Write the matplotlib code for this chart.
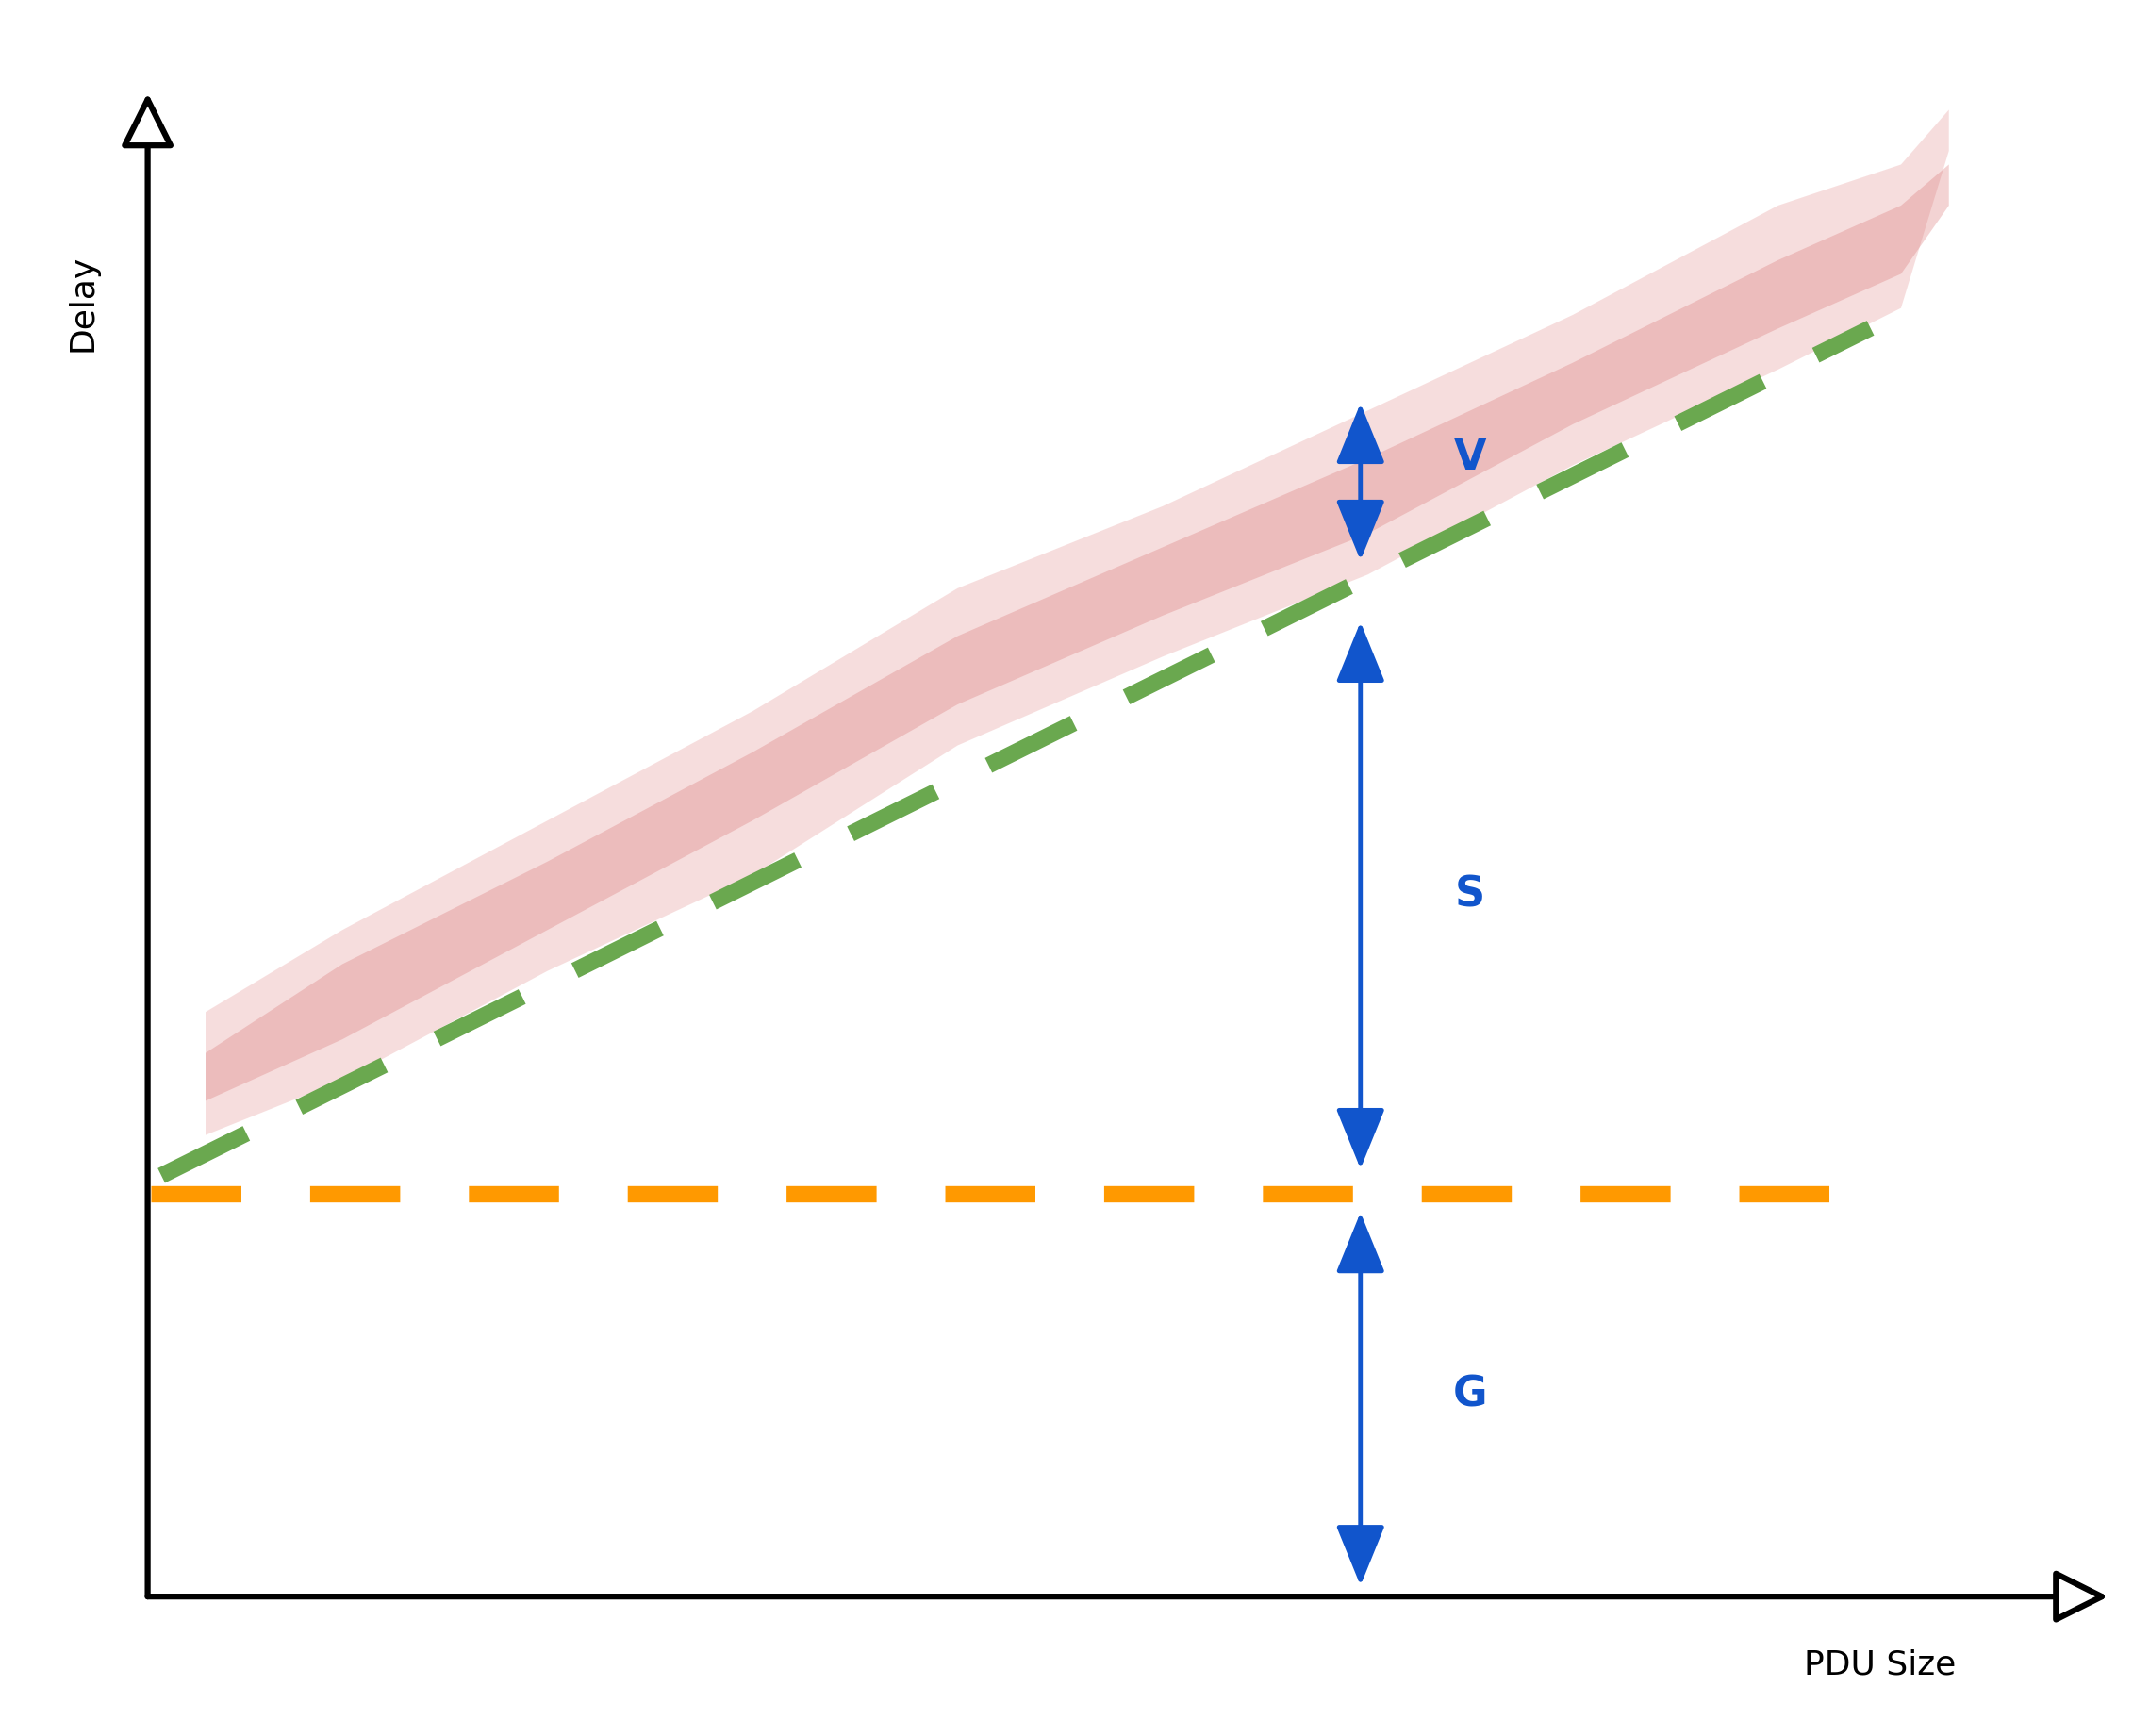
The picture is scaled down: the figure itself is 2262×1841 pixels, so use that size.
import matplotlib
matplotlib.use("Agg")
import matplotlib.pyplot as plt
from matplotlib.patches import FancyArrowPatch

# Cloud boundaries (image-space coordinates)
cloud_x = [150, 250, 400, 550, 700, 850, 1000, 1150, 1300, 1390, 1425]
cloud_top = [740, 680, 600, 520, 430, 370, 300, 230, 150, 120, 80]
cloud_bot = [830, 790, 710, 640, 545, 480, 420, 340, 270, 225, 110]
core_top = [770, 705, 630, 550, 465, 400, 335, 265, 190, 150, 120]
core_bot = [805, 760, 680, 600, 515, 450, 390, 310, 240, 200, 150]

green_x = [118, 1368]
green_y = [860, 240]
orange_y = 873
orange_x = [110, 1380]

arrow_x = 995
spans = {"V": (295, 410, 335), "S": (455, 855, 655), "G": (887, 1160, 1020)}

fig = plt.figure(figsize=(22.62, 18.41), dpi=100)
ax = fig.add_axes([0, 0, 1, 1])
ax.set_xlim(0, 1560)
ax.set_ylim(1270, 0)
ax.axis("off")

ax.fill_between(cloud_x, cloud_top, cloud_bot, color="#e8a0a0", alpha=0.35, lw=0)
ax.fill_between(cloud_x, core_top, core_bot, color="#d87070", alpha=0.3, lw=0)

ax.plot(green_x, green_y, color="#6aa84f", lw=12.5, dashes=(5.8, 3.6), solid_capstyle="butt", dash_capstyle="butt")
ax.plot(orange_x, [orange_y, orange_y], color="#ff9900", lw=12.5, dashes=(5.5, 4.2), dash_capstyle="butt")

# axes
ax.add_patch(FancyArrowPatch((108, 1168), (108, 68), arrowstyle="-|>,head_length=1.4,head_width=0.7",
                             mutation_scale=25, lw=4.5, color="black", fc="white", shrinkA=0, shrinkB=0))
ax.add_patch(FancyArrowPatch((108, 1168), (1542, 1168), arrowstyle="-|>,head_length=1.4,head_width=0.7",
                             mutation_scale=25, lw=4.5, color="black", fc="white", shrinkA=0, shrinkB=0))

for lab, (y0, y1, ty) in spans.items():
    ax.add_patch(FancyArrowPatch((arrow_x, y0), (arrow_x, y1), arrowstyle="<|-|>,head_length=1.6,head_width=0.65",
                                 mutation_scale=25, lw=3.5, color="#1155cc", shrinkA=0, shrinkB=0))
    ax.text(1075, ty, lab, color="#1155cc", fontsize=32, fontweight="bold", ha="center", va="center")

ax.text(60, 222, "Delay", rotation=90, fontsize=26, ha="center", va="center")
ax.text(1375, 1218, "PDU Size", fontsize=26, ha="center", va="center")

fig.savefig("out.png", dpi=100)
